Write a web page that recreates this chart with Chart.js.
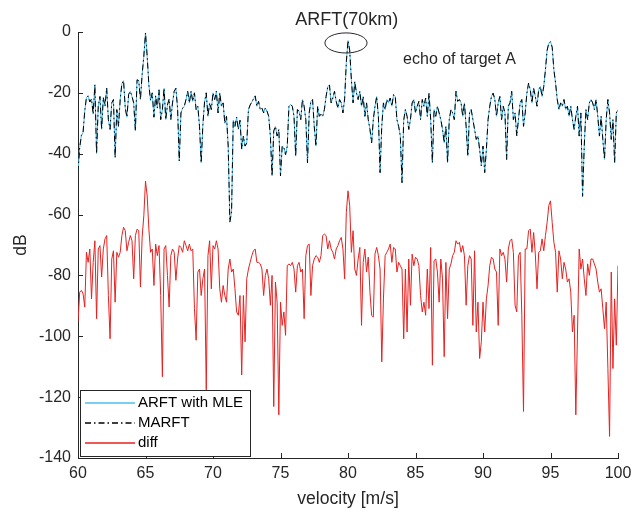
<!DOCTYPE html>
<html>
<head>
<meta charset="utf-8">
<script src="https://cdn.jsdelivr.net/npm/chart.js@4.4.1/dist/chart.umd.min.js"></script>
<style>
  html, body { margin: 0; padding: 0; background: #ffffff; }
  #c { display: block; }
</style>
</head>
<body>
<canvas id="c" width="642" height="513"></canvas>
<script>
// ---- data (0.125 m/s sampling) ----
const velocityStart = 60;
const velocityStep = 0.125;
const xTicks = [60, 65, 70, 75, 80, 85, 90, 95, 100];
const yTicks = [0, -20, -40, -60, -80, -100, -120, -140];
const seriesNames = ['ARFT with MLE', 'MARFT', 'diff'];

// ARFT with MLE (dB)
const arft = [
 -46,-38,-34,-33,-26,-21.5,-21,-23,-22,-27,-17.3,-40,-24.4,-21.2,-32,-21.5,-24.4,-18.4,-28.8,-32,
 -23.3,-22.2,-41.3,-25.5,-31,-22.2,-17,-16,-25,-28,-20.5,-19.5,-21.2,-23.3,-32.5,-15.7,-16,-22.2,-14,-8,
 -0.3,-8,-17.5,-22.5,-20,-28,-21,-25,-19,-28.8,-25.5,-18.5,-28.8,-24,-22,-28.8,-23.3,-19.5,-18.5,-25,
 -42.4,-26.6,-25,-24.4,-22.2,-19.5,-23.3,-19.5,-22.8,-20,-25.5,-24.4,-31,-43,-30.5,-23,-20,-27.7,-23.3,-25.5,
 -20,-22.2,-19.5,-26.6,-20,-24.4,-23.3,-30,-27.7,-37.5,-62.5,-59,-29,-31,-28,-32,-29,-38.5,-34.2,-37.5,
 -36.5,-25.5,-24,-23,-22,-21,-24.4,-22.8,-25.5,-25,-26.6,-25,-26,-27.7,-34.2,-47.3,-32.5,-31,-34.2,-32,
 -47.3,-37.5,-38,-40.3,-37.5,-24.4,-23.8,-24.4,-27.7,-40.8,-25.5,-26,-28.8,-22.2,-24.4,-28.8,-43,-26.6,-22.8,-22.2,
 -31,-37.5,-24.4,-27.7,-27,-27.7,-25.5,-21.2,-18,-17.4,-23.3,-21.7,-19.5,-22.8,-25,-22.2,-23.3,-26.6,-22,-10,
 -2.8,-6,-15.7,-23.3,-16.3,-20,-22.2,-19.5,-24.4,-21.2,-27.7,-23.3,-28.8,-32,-36.4,-28.8,-24.4,-21.2,-27.7,-46.2,
 -31,-23.3,-25.5,-22.2,-23.3,-21.7,-24.4,-20.6,-21.2,-28.8,-31,-34.2,-49.5,-29,-25.5,-27.7,-32,-28.8,-23.3,-22.2,
 -26.6,-24.4,-22.8,-28.8,-22.2,-24.4,-21.7,-27.7,-20.1,-28.8,-43,-25.5,-27.7,-24.4,-26.6,-28.8,-32,-36.4,-31,-43,
 -28.8,-25.5,-26.6,-28.8,-19.5,-22.8,-22.2,-23.3,-27.7,-23.3,-31,-40.8,-26.6,-25.5,-28.8,-32,-35.3,-34.2,-38.6,-44,
 -37.5,-46.2,-38.6,-28.8,-24.4,-21.2,-20.1,-22.2,-27.7,-23.3,-21.2,-28.8,-24.4,-26.6,-41.9,-24.4,-23.3,-19.5,-28.8,-26.6,
 -34.2,-28.8,-23.3,-22.2,-31,-26.6,-20.1,-16.8,-19,-23.3,-18.5,-21.2,-24.4,-19,-17.9,-21.2,-17.9,-12.4,-6,-3.7,
 -3.2,-5,-12.4,-16.8,-22.2,-25.5,-23.3,-24.4,-22.2,-25.5,-24.4,-27.7,-24.4,-28.8,-32,-27.7,-24.4,-34.2,-26.6,-54,
 -37.5,-25.5,-28.8,-23.3,-22.2,-23.3,-25.5,-22.2,-27.7,-34.2,-27.7,-35.3,-41.9,-28.8,-22.2,-26.6,-35.3,-28.8,-43,-26.6,
 -25.5
];

// MARFT (dB) - overlaps the ARFT with MLE curve in the picture
const marft = arft.slice();

// diff (dB)
const diff = [
 -95.3,-85.5,-84.9,-86,-90.4,-72.4,-75.7,-71.3,-87.7,-75.7,-68.6,-94.2,-71.3,-70.2,-80.5,-71.3,-68,-66.9,-86.6,-100.8,
 -74.6,-71.9,-88.8,-72.4,-74,-72.4,-66.9,-64.2,-65.3,-71.9,-69.1,-66.9,-68.6,-81.1,-66.9,-64.8,-65.3,-83.8,-67.5,-60.4,
 -49,-53.9,-64.8,-72.4,-71.3,-83.3,-69.7,-73.5,-70.2,-86.6,-113.3,-71.3,-70.2,-80,-90.4,-73.5,-71.3,-72.4,-81.6,-74.6,
 -70.2,-70.8,-72.4,-68.6,-70.2,-71.9,-69.7,-71.9,-71.3,-90.9,-101.3,-78.9,-77.9,-86.6,-81.1,-77.9,-117.6,-73.5,-68.6,-84.4,
 -70.2,-71.3,-68.6,-71.3,-84.4,-88.8,-83.3,-86.6,-88.8,-77.9,-74.6,-78.9,-77.9,-84.4,-92,-93.1,-86.6,-112.7,-86.6,-101.8,
 -81.1,-77.9,-75.7,-73.5,-71.9,-71.3,-75.7,-75.7,-76.2,-77.9,-86.6,-80,-77.9,-81.1,-89.8,-80,-123.1,-82.2,-88.8,-125.8,
 -88.8,-96.4,-92,-99.7,-76.8,-76.2,-76.8,-75.7,-77.9,-85.5,-76.8,-75.7,-78.9,-77.9,-94.2,-73.5,-70.2,-69.7,-86.6,-76.8,
 -74.6,-73.5,-74,-75.7,-73.5,-66.9,-66.4,-66.9,-71.3,-68.6,-71.3,-72.4,-74.6,-71.3,-70.2,-68.6,-67.5,-71.3,-81.1,-59.3,
 -52.2,-57.1,-72.4,-65.3,-77.9,-80,-74.6,-70.8,-96.4,-75.7,-71.3,-78.9,-74,-85.5,-93.1,-93.7,-72.9,-70.8,-73.5,-77.9,
 -108.4,-87.7,-73.5,-72.4,-71.3,-69.7,-75.7,-70.8,-71.3,-78.9,-75.7,-76.8,-77.9,-100.8,-77.9,-98.6,-74.6,-89.8,-73,-76.8,
 -74,-74.6,-76.8,-86.6,-92,-88.8,-93.1,-77.9,-90.9,-70.8,-109.5,-75.1,-74.6,-78.9,-88.8,-74.6,-81.1,-106.7,-75.7,-94.2,
 -77.9,-76.2,-73.5,-72.4,-68.6,-69.7,-69.1,-72.4,-70.2,-73.5,-89.8,-76.8,-73.5,-74.6,-96.4,-71.9,-98.6,-88.8,-107.3,-101.8,
 -88.8,-98.6,-87.7,-83.3,-76.8,-74,-74.6,-77.9,-78.9,-96.4,-71.3,-73.5,-72.4,-74.6,-82.2,-71.3,-68.6,-68,-72.4,-89.8,
 -92,-73.5,-72.4,-93.1,-124.7,-71.3,-71.3,-65.3,-64.8,-72.4,-65.9,-73,-84.4,-72.4,-71.9,-68,-71.9,-66.9,-62.6,-57,
 -55.5,-62.6,-69.1,-72.4,-85.5,-71.9,-74.6,-81.1,-75.7,-77.9,-82.2,-81.1,-85.5,-98.6,-93.1,-125.8,-98.6,-71.3,-77.9,-74.6,
 -81.1,-86.6,-76.2,-80,-74.6,-74.6,-76.2,-77.9,-82.2,-85.5,-84.4,-90.9,-97.5,-88.8,-110.6,-132.9,-78.9,-110.6,-87.7,-102.9,
 -76.8
];

// velocity axis sample positions (m/s)
const velocity = arft.map((_, i) => +(velocityStart + i * velocityStep).toFixed(3));

// annotation (data units)
const peakNote = { text: 'ARFT(70km)', v: 79.9, db: 3.9 };
const echoNote = { text: 'echo of target A', v: 84.08, db: -9.2 };
const ring = { v: 79.85, db: -3.6, halfV: 1.56, halfDb: 3.3 };

// ---- styles ----
const FONT = "'Liberation Sans', Arial, Helvetica, sans-serif";
const AX = '#262626';
const COLORS = ['#4DBEEE', '#000000', '#e8201f'];
const DASHES = [[], [6, 3, 1.5, 3], []];

const decor = {
  id: 'decor',
  afterDraw(chart) {
    const ctx = chart.ctx;
    const xs = chart.scales.x, ys = chart.scales.y;
    const area = chart.chartArea;
    ctx.save();
    // inward tick marks
    ctx.strokeStyle = AX;
    ctx.lineWidth = 1;
    ctx.beginPath();
    xTicks.forEach(v => {
      const px = Math.round(xs.getPixelForValue(v)) + 0.5;
      ctx.moveTo(px, area.bottom);
      ctx.lineTo(px, area.bottom - 5);
    });
    yTicks.forEach(v => {
      const py = Math.round(ys.getPixelForValue(v)) + 0.5;
      ctx.moveTo(area.left, py);
      ctx.lineTo(area.left + 5, py);
    });
    ctx.stroke();

    // ellipse around the 80 m/s peak
    const cx = xs.getPixelForValue(ring.v), cy = ys.getPixelForValue(ring.db);
    const rx = Math.abs(xs.getPixelForValue(ring.v + ring.halfV) - cx);
    const ry = Math.abs(ys.getPixelForValue(ring.db + ring.halfDb) - cy);
    ctx.beginPath();
    ctx.ellipse(cx, cy, rx, ry, 0, 0, Math.PI * 2);
    ctx.strokeStyle = AX;
    ctx.stroke();

    // texts
    ctx.fillStyle = AX;
    ctx.textBaseline = 'middle';
    ctx.font = '18px ' + FONT;
    ctx.textAlign = 'center';
    ctx.fillText(peakNote.text, xs.getPixelForValue(peakNote.v), ys.getPixelForValue(peakNote.db));
    ctx.font = '16px ' + FONT;
    ctx.textAlign = 'left';
    ctx.fillText(echoNote.text, xs.getPixelForValue(echoNote.v), ys.getPixelForValue(echoNote.db));

    // legend box (lower left, inside the axes)
    const bx = Math.round(area.left) + 2, bw = 170, bh = 66;
    const by = Math.round(area.bottom) - 2 - bh;
    ctx.fillStyle = '#ffffff';
    ctx.fillRect(bx, by, bw, bh);
    ctx.strokeStyle = '#262626';
    ctx.lineWidth = 1;
    ctx.setLineDash([]);
    ctx.strokeRect(bx + 0.5, by + 0.5, bw, bh);
    ctx.font = '15px ' + FONT;
    ctx.textAlign = 'left';
    ctx.textBaseline = 'middle';
    seriesNames.forEach((name, k) => {
      const ly = by + 13 + k * 20;
      ctx.beginPath();
      ctx.setLineDash(DASHES[k]);
      ctx.strokeStyle = COLORS[k];
      ctx.lineWidth = 1.5;
      ctx.moveTo(bx + 5, ly);
      ctx.lineTo(bx + 55, ly);
      ctx.stroke();
      ctx.setLineDash([]);
      ctx.fillStyle = '#000000';
      ctx.fillText(name, bx + 58, ly);
    });
    ctx.restore();
  }
};

new Chart(document.getElementById('c'), {
  type: 'line',
  data: {
    labels: velocity,
    datasets: [
      { label: seriesNames[0], data: arft, borderColor: COLORS[0], borderWidth: 1, borderDash: DASHES[0], pointRadius: 0, order: 2 },
      { label: seriesNames[1], data: marft, borderColor: COLORS[1], borderWidth: 1, borderDash: DASHES[1], pointRadius: 0, order: 1 },
      { label: seriesNames[2], data: diff, borderColor: COLORS[2], borderWidth: 1, borderDash: DASHES[2], pointRadius: 0, order: 0 }
    ]
  },
  options: {
    responsive: false,
    animation: false,
    devicePixelRatio: 1,
    events: [],
    layout: { padding: { top: 32, right: 24, left: 0, bottom: 0 } },
    elements: { line: { tension: 0 } },
    plugins: { legend: { display: false }, tooltip: { enabled: false }, title: { display: false } },
    scales: {
      x: {
        type: 'linear', min: 60, max: 100,
        afterBuildTicks: s => { s.ticks = xTicks.map(v => ({ value: v })); },
        afterFit: s => { s.height = 55; },
        grid: { display: false, drawTicks: false },
        border: { display: true, color: AX, width: 1 },
        ticks: { font: { family: FONT, size: 16 }, color: AX, padding: 6, maxRotation: 0, autoSkip: false },
        title: { display: true, text: 'velocity [m/s]', color: AX, font: { family: FONT, size: 17.6 }, padding: { top: 0, bottom: 3 } }
      },
      y: {
        type: 'linear', min: -140, max: 0,
        afterBuildTicks: s => { s.ticks = yTicks.map(v => ({ value: v })); },
        afterFit: s => { s.width = 78; },
        grid: { display: false, drawTicks: false },
        border: { display: true, color: AX, width: 1 },
        ticks: { font: { family: FONT, size: 16 }, color: AX, padding: 7, autoSkip: false },
        title: { display: true, text: 'dB', color: AX, font: { family: FONT, size: 17.6 }, padding: { top: 11, bottom: 0 } }
      }
    }
  },
  plugins: [decor]
});
</script>
</body>
</html>
